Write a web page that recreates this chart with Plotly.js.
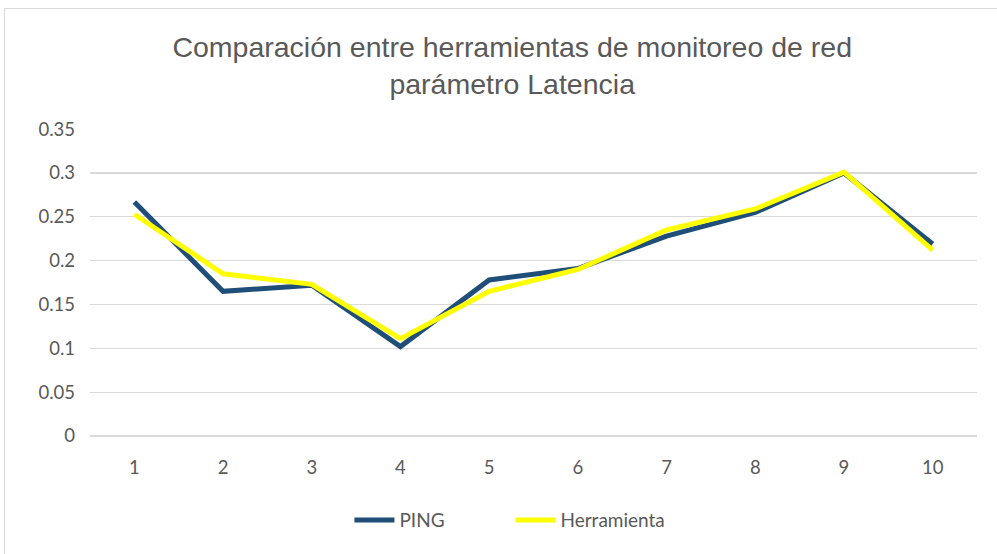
<!DOCTYPE html>
<html>
<head>
<meta charset="utf-8">
<script src="https://cdn.plot.ly/plotly-3.0.1.min.js"></script>
<style>
  html, body { margin: 0; padding: 0; background: #fff; overflow: hidden; }
  #frame { position: absolute; left: 4px; top: 8px; width: 1010px; height: 560px; border: 1px solid #D9D9D9; box-sizing: border-box; }
  #chart { position: absolute; left: 0; top: 0; width: 997px; height: 554px; }
</style>
</head>
<body>
<div id="frame"></div>
<div id="chart"></div>
<script>
const categories = ['1', '2', '3', '4', '5', '6', '7', '8', '9', '10'];
const pingValues = [0.267, 0.165, 0.172, 0.102, 0.178, 0.191, 0.228, 0.255, 0.300, 0.219];
const herramientaValues = [0.253, 0.185, 0.173, 0.111, 0.165, 0.190, 0.235, 0.259, 0.301, 0.212];
const yTickValues = [0, 0.05, 0.1, 0.15, 0.2, 0.25, 0.3, 0.35];
const yTickLabels = ['0', '0.05', '0.1', '0.15', '0.2', '0.25', '0.3', '0.35'];

const textColor = '#595959';
const titleFont = 'Liberation Sans, Arial, sans-serif';
const font = 'Lato, Open Sans, sans-serif';

const traces = [
  {
    x: categories, y: pingValues, name: 'PING', type: 'scatter', mode: 'lines',
    line: { color: '#1F4E79', width: 5 }
  },
  {
    x: categories, y: herramientaValues, name: 'Herramienta', type: 'scatter', mode: 'lines',
    line: { color: '#FFFF00', width: 5 }
  }
];

const layout = {
  width: 997, height: 554,
  paper_bgcolor: 'rgba(0,0,0,0)', plot_bgcolor: 'rgba(0,0,0,0)',
  margin: { l: 90, r: 20, t: 129, b: 118 },
  font: { family: font, color: textColor, size: 18 },
  title: {
    text: 'Comparación entre herramientas de monitoreo de red<br>parámetro Latencia',
    font: { family: titleFont, size: 28.5, color: textColor },
    x: 0.476, xanchor: 'center', xref: 'paper',
    y: 0.898, yanchor: 'middle', yref: 'container',
    automargin: false
  },
  xaxis: {
    type: 'category', range: [-0.5, 9.5],
    showgrid: false, zeroline: false, showline: false,
    ticks: '', ticklabelstandoff: 18,
    tickfont: { size: 18.5, color: textColor, family: font }
  },
  yaxis: {
    range: [0, 0.3502], tickvals: yTickValues, ticktext: yTickLabels,
    showgrid: true, gridcolor: '#D9D9D9', gridwidth: 1.3,
    zeroline: true, zerolinecolor: '#D9D9D9', zerolinewidth: 1.3,
    showline: false, ticks: '', ticklabelstandoff: 14,
    tickfont: { size: 18.5, color: textColor, family: font }
  },
  showlegend: true,
  legend: {
    orientation: 'h', x: 0.512, xanchor: 'center', xref: 'container',
    y: 0.061, yanchor: 'middle', yref: 'container',
    font: { size: 19, color: textColor, family: font },
    itemwidth: 40, entrywidth: 106, tracegroupgap: 0
  }
};

Plotly.newPlot('chart', traces, layout, { displayModeBar: false, staticPlot: true });
</script>
</body>
</html>
